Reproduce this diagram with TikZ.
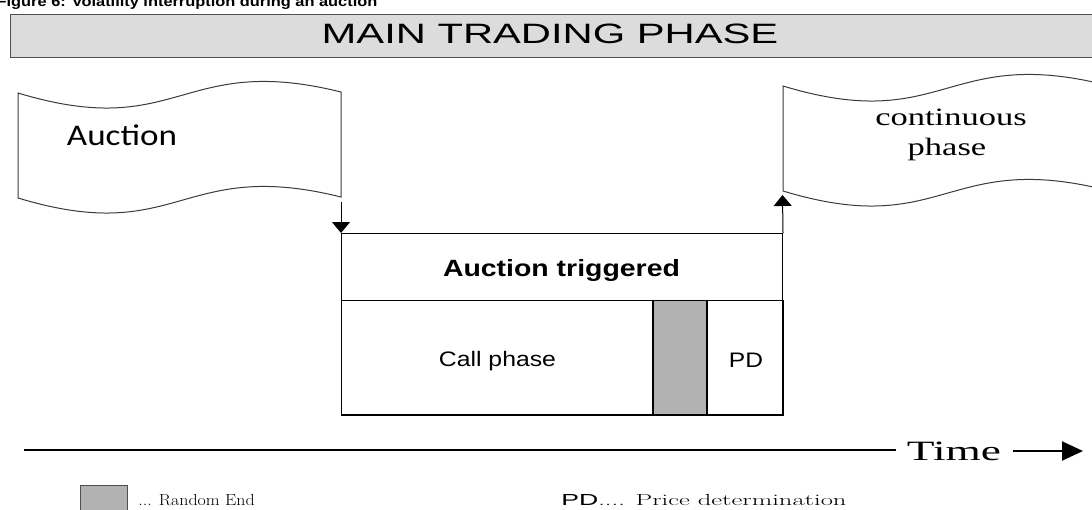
\documentclass[tikz,border=0pt]{standalone}
\usepackage{fontspec}
\usepackage{graphicx}
\usetikzlibrary{arrows.meta}
\newfontfamily\sansA{Liberation Sans}
\newfontfamily\serifT{Liberation Serif}
\newfontfamily\sansC{Carlito}
% horizontal stretch of a piece of text
\newcommand{\wide}[2]{\scalebox{#1}[1]{#2}}
\definecolor{barfill}{HTML}{DCDCDC}
\definecolor{barline}{HTML}{505050}
\definecolor{randgrey}{HTML}{B2B2B2}
\definecolor{wavegrey}{HTML}{3A3A3A}

\begin{document}
\begin{tikzpicture}[x=1pt,y=-1pt,
  txt/.style={inner sep=0pt,anchor=base},
  phasebox/.style={draw=black,line width=1pt,inner sep=0pt,anchor=north west},
  wave/.style={draw=wavegrey,line width=1pt},
  flow/.style={draw=black,line width=1pt,-{Triangle[width=18pt,length=11pt]}},
]
\useasboundingbox (0,0) rectangle (1092,509);
\clip (0,0) rectangle (1092,509);

% caption
\node[txt] (caption) at (187,6) {\fontsize{14}{16}\sansA\bfseries\wide{1.17}{Figure 6: Volatility interruption during an auction}};

% header bar
\node[draw=barline, fill=barfill, line width=1pt, minimum width=1100pt, minimum height=43pt, inner sep=0pt, anchor=north west] (bar) at (10,14) {};
\node[txt] (bartext) at (550,43) {\fontsize{28}{30}\sansA\wide{1.49}{MAIN TRADING PHASE}};

% auction tape
\path[wave] (18,93) .. controls (180,142) and (180,52) .. (341,92) -- (341,197)
  .. controls (180,157) and (180,247) .. (18,198) -- cycle;
\coordinate (aucOut) at (341,202);
\node[txt] (auctext) at (122,145) {\fontsize{30}{32}\sansC\wide{1.17}{Auction}};

% continuous phase tape
\path[wave] (783,86) .. controls (945,135) and (945,45) .. (1106,85) -- (1106,190)
  .. controls (945,150) and (945,240) .. (783,191) -- cycle;
\coordinate (contIn) at (782.5,195);
\node[txt] (conttext1) at (951,125) {\fontsize{25}{30}\serifT\wide{1.38}{continuous}};
\node[txt] (conttext2) at (947,155) {\fontsize{25}{30}\serifT\wide{1.38}{phase}};

% triggered auction
\node[phasebox, minimum width=441pt, minimum height=67pt] (trig) at (341,233) {};
\node[phasebox, minimum width=441pt, minimum height=114pt] (call) at (341,300) {};
\node[fill=randgrey, inner sep=0pt, anchor=north west, minimum width=54pt, minimum height=114pt] (rand) at (653,300) {};
\draw[line width=2pt] (rand.north west) -- (rand.south west);
\draw[line width=2pt] (rand.north east) -- (rand.south east);
\draw[line width=1pt] (call.north west) rectangle (call.south east);

\node[txt] (trigtext) at (561.5,276) {\fontsize{23.5}{26}\sansA\bfseries\wide{1.21}{Auction triggered}};
\node[txt] (calltext) at (497.5,366) {\fontsize{21}{24}\sansA\wide{1.18}{Call phase}};
\node[txt] (pdtext) at (746,367) {\fontsize{21}{24}\sansA\wide{1.17}{PD}};

\draw[flow] (aucOut) -- (trig.north west);
\draw[flow] (trig.north east) -- (contIn);

% time axis
\coordinate (axisL) at (24,450);
\coordinate (axisR) at (896,450);
\draw[line width=2pt] (axisL) -- (axisR);
\node[txt] (time) at (954,460) {\fontsize{28}{30}\serifT\wide{1.62}{Time}};
\coordinate (tA) at (1013,451);
\coordinate (tB) at (1083,451);
\draw[line width=2pt,-{Triangle[width=19pt,length=21pt]}] (tA) -- (tB);

% legend
\node[draw=barline, fill=randgrey, line width=1pt, minimum width=47pt, minimum height=30pt, inner sep=0pt, anchor=north west] (legbox) at (80,485) {};
\node[txt] (legrand) at (196.5,505) {\fontsize{16}{18}\selectfont\wide{1.12}{... Random End}};
\node[txt] (legpd) at (704,505) {\fontsize{16}{18}\selectfont\wide{1.66}{{\sansA PD}.... Price determination}};
\end{tikzpicture}
\end{document}
